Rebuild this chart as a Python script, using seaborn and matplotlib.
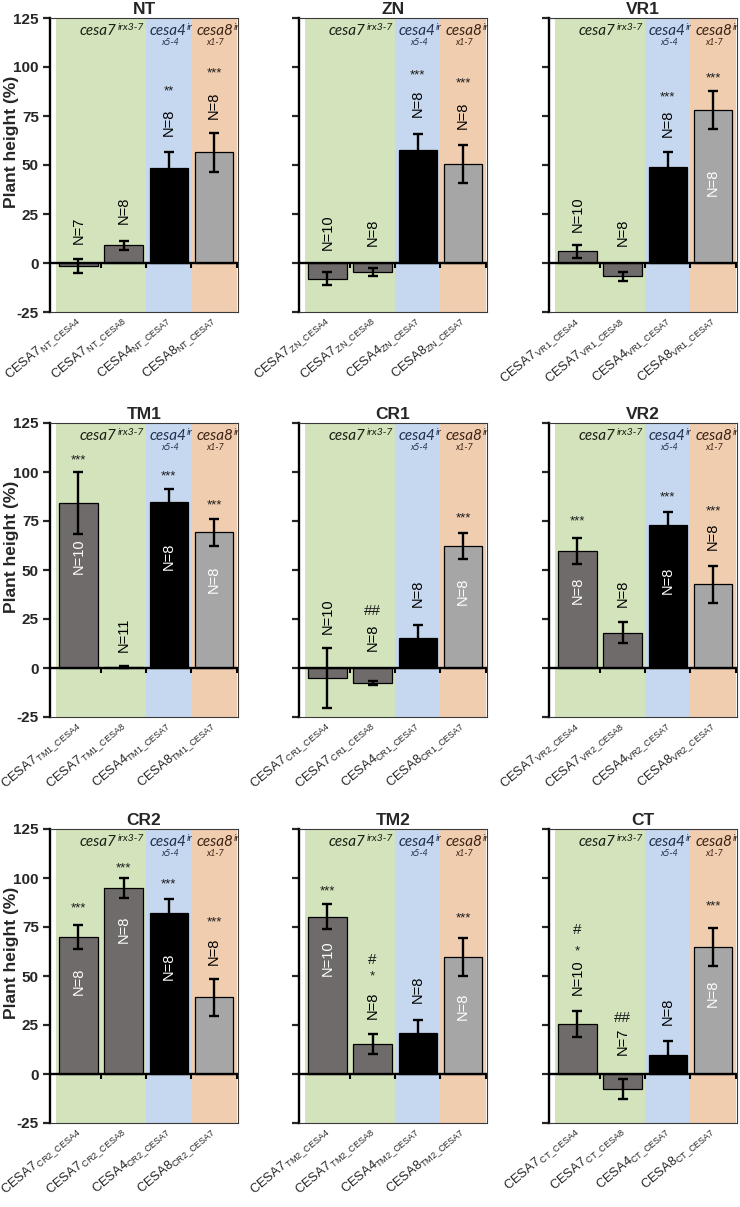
import matplotlib
matplotlib.use("Agg")
import matplotlib.pyplot as plt
import matplotlib.transforms as mtransforms
import seaborn as sns
import pandas as pd

# panel order, left to right, top to bottom
panels = ["NT", "ZN", "VR1", "TM1", "CR1", "VR2", "CR2", "TM2", "CT"]
lines = ["CESA7", "CESA7", "CESA4", "CESA8"]
partners = ["CESA4", "CESA8", "CESA7", "CESA7"]

# plant height (%), one row per panel
heights = [
    [-1.5, 9.0, 48.3, 56.5],   # NT
    [-8.0, -4.6, 57.6, 50.5],  # ZN
    [6.0, -6.8, 48.8, 78.1],   # VR1
    [84.1, 0.5, 84.6, 69.2],   # TM1
    [-4.9, -7.5, 15.5, 62.4],  # CR1
    [59.7, 18.1, 72.8, 42.8],  # VR2
    [69.9, 94.9, 82.1, 39.1],  # CR2
    [80.3, 15.1, 20.9, 59.7],  # TM2
    [25.5, -7.5, 9.7, 64.8],   # CT
]
errors = [
    [3.4, 2.4, 8.2, 10.0],
    [3.4, 2.2, 8.0, 9.8],
    [3.4, 2.2, 8.0, 9.9],
    [15.7, 0.5, 6.5, 6.7],
    [15.3, 1.0, 6.6, 6.7],
    [6.5, 5.2, 7.0, 9.4],
    [6.3, 5.0, 7.1, 9.4],
    [6.5, 5.1, 6.8, 9.5],
    [6.5, 5.0, 7.3, 9.7],
]
n_plants = [
    [7, 8, 8, 8],
    [10, 8, 8, 8],
    [10, 8, 8, 8],
    [10, 11, 8, 8],
    [10, 8, 8, 8],
    [8, 8, 8, 8],
    [8, 8, 8, 8],
    [10, 8, 8, 8],
    [10, 7, 8, 8],
]
stars = [
    ["", "", "**", "***"],
    ["", "", "***", "***"],
    ["", "", "***", "***"],
    ["***", "", "***", "***"],
    ["", "", "", "***"],
    ["***", "", "***", "***"],
    ["***", "***", "***", "***"],
    ["***", "*", "", "***"],
    ["*", "", "", "***"],
]
hashes = [
    ["", "", "", ""],
    ["", "", "", ""],
    ["", "", "", ""],
    ["", "", "", ""],
    ["", "##", "", ""],
    ["", "", "", ""],
    ["", "", "", ""],
    ["", "#", "", ""],
    ["#", "##", "", ""],
]

# where the annotations sit (y in data units)
n_y = [
    [16.7, 27, 72, 80.7],
    [15.5, 15.9, 81.5, 75.5],
    [24.9, 15.9, 71.3, 41.4],
    [56.8, 16.7, 56.8, 45.4],
    [26.4, 15.9, 38, 38.9],
    [39.7, 38, 44.8, 67.4],
    [47.3, 73.6, 54.9, 62.6],
    [59.2, 34.9, 43, 34.5],
    [49.3, 16.7, 32, 41.3],
]
star_y = [
    [0, 0, 87.5, 96.5],
    [0, 0, 95.5, 91.7],
    [0, 0, 84.6, 94.1],
    [105.9, 0, 97.7, 82.7],
    [0, 0, 0, 76.4],
    [74.7, 0, 87, 79.8],
    [84.4, 104.8, 96.6, 77.4],
    [93.2, 49.8, 0, 79.3],
    [62.6, 0, 0, 85.5],
]
hash_y = [
    [0, 0, 0, 0],
    [0, 0, 0, 0],
    [0, 0, 0, 0],
    [0, 0, 0, 0],
    [0, 29, 0, 0],
    [0, 0, 0, 0],
    [0, 0, 0, 0],
    [0, 58.3, 0, 0],
    [73.6, 28.6, 0, 0],
]

bar_colors = {"CESA7": "#6f6b69", "CESA4": "#000000", "CESA8": "#a6a6a6"}
bg_green, bg_blue, bg_orange = "#d3e3bc", "#c6d8ef", "#f1cdb0"

sns.set_style("ticks")
plt.rcParams["font.family"] = ["Liberation Sans", "DejaVu Sans"]
plt.rcParams["mathtext.fontset"] = "custom"
plt.rcParams["mathtext.rm"] = "Liberation Sans"
plt.rcParams["mathtext.it"] = "Liberation Sans:italic"
plt.rcParams["mathtext.bf"] = "Liberation Sans:bold"

W, H = 740, 1207
fig = plt.figure(figsize=(W / 100, H / 100), dpi=100)
col_left = [50, 299, 549]
row_top = [18, 423, 829]
aw, ah = 188, 294

grp_font = ["Lato", "DejaVu Sans"]
# mutant group headers: (main text, superscript, allele line, x of split, x of allele, colour)
groups = [
    ("cesa7", "irx3-7", "", 0.85, 0.0, "#1a1f14"),
    ("cesa4", "ir", "x5-4", 2.38, 2.03, "#1f3050"),
    ("cesa8", "ir", "x1-7", 3.42, 3.02, "#3b2314"),
]

for i, name in enumerate(panels):
    r, c = divmod(i, 3)
    ax = fig.add_axes([col_left[c] / W, 1 - (row_top[r] + ah) / H, aw / W, ah / H])

    labels = []
    for k in range(4):
        gap = r"\," if k < 2 else ""
        labels.append(lines[k] + r"$_{" + gap + r"\mathregular{" + name + r"\_" + partners[k] + "}}$")
    df = pd.DataFrame({"label": labels, "height": heights[i], "line": lines})

    # coloured background for each mutant group
    ax.axvspan(-0.5, 1.5, color=bg_green, lw=0, zorder=0)
    ax.axvspan(1.5, 2.5, color=bg_blue, lw=0, zorder=0)
    ax.axvspan(2.5, 3.5, color=bg_orange, lw=0, zorder=0)

    sns.barplot(data=df, x="label", y="height", hue="label",
                palette=[bar_colors[l] for l in lines], legend=False,
                width=0.85, edgecolor="black", linewidth=0.9, ax=ax, zorder=2)
    ax.errorbar(range(4), heights[i], yerr=errors[i], fmt="none", ecolor="black",
                elinewidth=1.7, capsize=3.5, capthick=1.7, zorder=3)

    # zero line with category separators
    ax.axhline(0, color="black", lw=1.7, zorder=4)
    ax.vlines([0.5, 1.5, 2.5, 3.5], -2.6, 0, color="black", lw=1.5, zorder=4)

    # N labels, stars and hashes
    for k in range(4):
        inside = (n_y[i][k] < heights[i][k])
        ax.text(k, n_y[i][k], "N=%d" % n_plants[i][k], rotation=90, ha="center", va="center",
                fontsize=10.5, color="white" if inside else "black", zorder=5)
        if stars[i][k]:
            ax.text(k, star_y[i][k], stars[i][k], ha="center", va="center",
                    fontsize=9.5, color="#1a1a1a", zorder=5)
        if hashes[i][k]:
            ax.text(k, hash_y[i][k], hashes[i][k], ha="center", va="center",
                    fontsize=11, color="#1a1a1a", zorder=5)

    # group headers
    for main, sup, allele, xs, xa, col in groups:
        ax.text(xs, 116.2, main, ha="right", va="baseline", fontsize=11, style="italic",
                family=grp_font, color=col)
        ax.text(xs + 0.01, 118.9, sup, ha="left", va="baseline", fontsize=7.5, style="italic",
                family=grp_font, color=col)
        if allele:
            ax.text(xa, 111.0, allele, ha="center", va="baseline", fontsize=6.5, style="italic",
                    family=grp_font, color=col)

    ax.set_xlim(-0.63, 3.53)
    ax.set_ylim(-25, 125)
    ax.set_yticks([-25, 0, 25, 50, 75, 100, 125])
    ax.set_xticks(range(4))
    ax.set_xticklabels(labels, rotation=40, ha="right", va="center",
                       rotation_mode="anchor", fontsize=9.3)
    # nudge the slanted labels a little to the right, like the original
    shift = mtransforms.ScaledTranslation(9 / 100, 0, fig.dpi_scale_trans)
    for t in ax.get_xticklabels():
        t.set_transform(t.get_transform() + shift)
    ax.tick_params(axis="x", length=0, pad=5)
    ax.tick_params(axis="y", length=5, width=1.6, direction="out", pad=3)
    if c == 0:
        ax.set_yticklabels(["-25", "0", "25", "50", "75", "100", "125"],
                           fontsize=11, fontweight="bold")
        ax.set_ylabel("Plant height (%)", fontsize=12.5, fontweight="bold")
        ax.yaxis.set_label_coords(-0.165, 0.58)
    else:
        ax.set_yticklabels([])
        ax.set_ylabel("")
    ax.set_xlabel("")
    ax.set_title(name, fontsize=12.5, fontweight="bold", pad=3)

    for side in ["top", "right", "bottom"]:
        ax.spines[side].set_linewidth(0.8)
        ax.spines[side].set_color("#3a3a3a")
    ax.spines["left"].set_linewidth(1.7)
    ax.spines["left"].set_color("black")

fig.savefig("out.png", dpi=100, facecolor="white")
